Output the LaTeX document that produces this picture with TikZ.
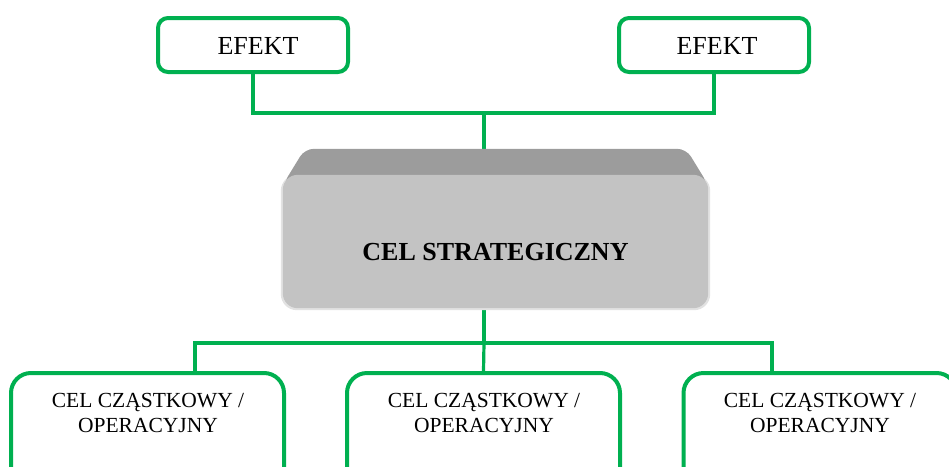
\documentclass[tikz,border=0pt]{standalone}
\usepackage{fontspec}
\setmainfont{Liberation Serif}
\definecolor{cgreen}{HTML}{00B050}
\definecolor{cface}{HTML}{C3C3C3}
\definecolor{cbevel}{HTML}{9C9C9C}
\definecolor{cshadow}{HTML}{E2E2E2}
\tikzset{
  conn/.style={draw=cgreen, line width=3.2pt},
  topbox/.style={draw=cgreen, line width=4pt, rounded corners=10pt, minimum width=190pt, minimum height=54pt, inner sep=0pt},
  botbox/.style={draw=cgreen, line width=4pt, rounded corners=20pt, minimum width=273pt, minimum height=130pt, inner sep=0pt, anchor=north},
  bottext/.style={align=center, font=\fontsize{21.5}{24.5}\selectfont, inner sep=0pt},
  toptext/.style={font=\fontsize{26}{30}\selectfont, inner sep=0pt},
}
\begin{document}
\begin{tikzpicture}[x=1pt, y=-1pt]
\useasboundingbox (0,0) rectangle (949,466);
\clip (0,0) rectangle (949,466);
% coordinates
\coordinate (tj) at (484,113);
\coordinate (bj) at (484,343);
\coordinate (bl) at (195,343);
\coordinate (br) at (772,343);
% top boxes
\node[topbox] (e1) at (253,45) {};
\node[topbox] (e2) at (714,45) {};
\node[toptext] (t1) at (258,46) {EFEKT};
\node[toptext] (t2) at (717,46) {EFEKT};
% central box (front face)
\node[minimum width=425pt, minimum height=133pt, inner sep=0pt] (s) at (495.5,241.5) {};
% bottom boxes
\node[botbox] (c1) at (147.5,371) {};
\node[botbox] (c2) at (483.5,371) {};
\node[botbox] (c3) at (820,371) {};
\node[bottext] (ct1) at (148,413) {CEL CZĄSTKOWY /\\OPERACYJNY};
\node[bottext] (ct2) at (484,413) {CEL CZĄSTKOWY /\\OPERACYJNY};
\node[bottext] (ct3) at (820,413) {CEL CZĄSTKOWY /\\OPERACYJNY};
% connectors
\draw[conn] (e1.south) |- (tj) -| (e2.south);
\draw[conn] (tj) -- (tj |- s.north);
\draw[conn] (tj |- s.south) -- (bj);
\draw[conn] (bl |- c1.north) -- (bl) -- (br) -- (br |- c3.north);
\draw[conn] (bj) -- (c2.north);
% central 3D box drawing
\fill[cshadow, rounded corners=16pt] ([xshift=-2pt]s.north west) rectangle ([xshift=2pt,yshift=-2pt]s.south east);
\fill[cbevel, rounded corners=9pt] ([xshift=0pt,yshift=-10pt]s.north west) -- ([xshift=22pt,yshift=26pt]s.north west) -- ([xshift=-22pt,yshift=26pt]s.north east) -- ([xshift=0pt,yshift=-10pt]s.north east) -- cycle;
\fill[cface, rounded corners=15pt] (s.north west) rectangle (s.south east);
\node[font=\bfseries\fontsize{26}{30}\selectfont, inner sep=0pt] (st) at (s.center) [yshift=-11pt] {CEL STRATEGICZNY};
\end{tikzpicture}
\end{document}
